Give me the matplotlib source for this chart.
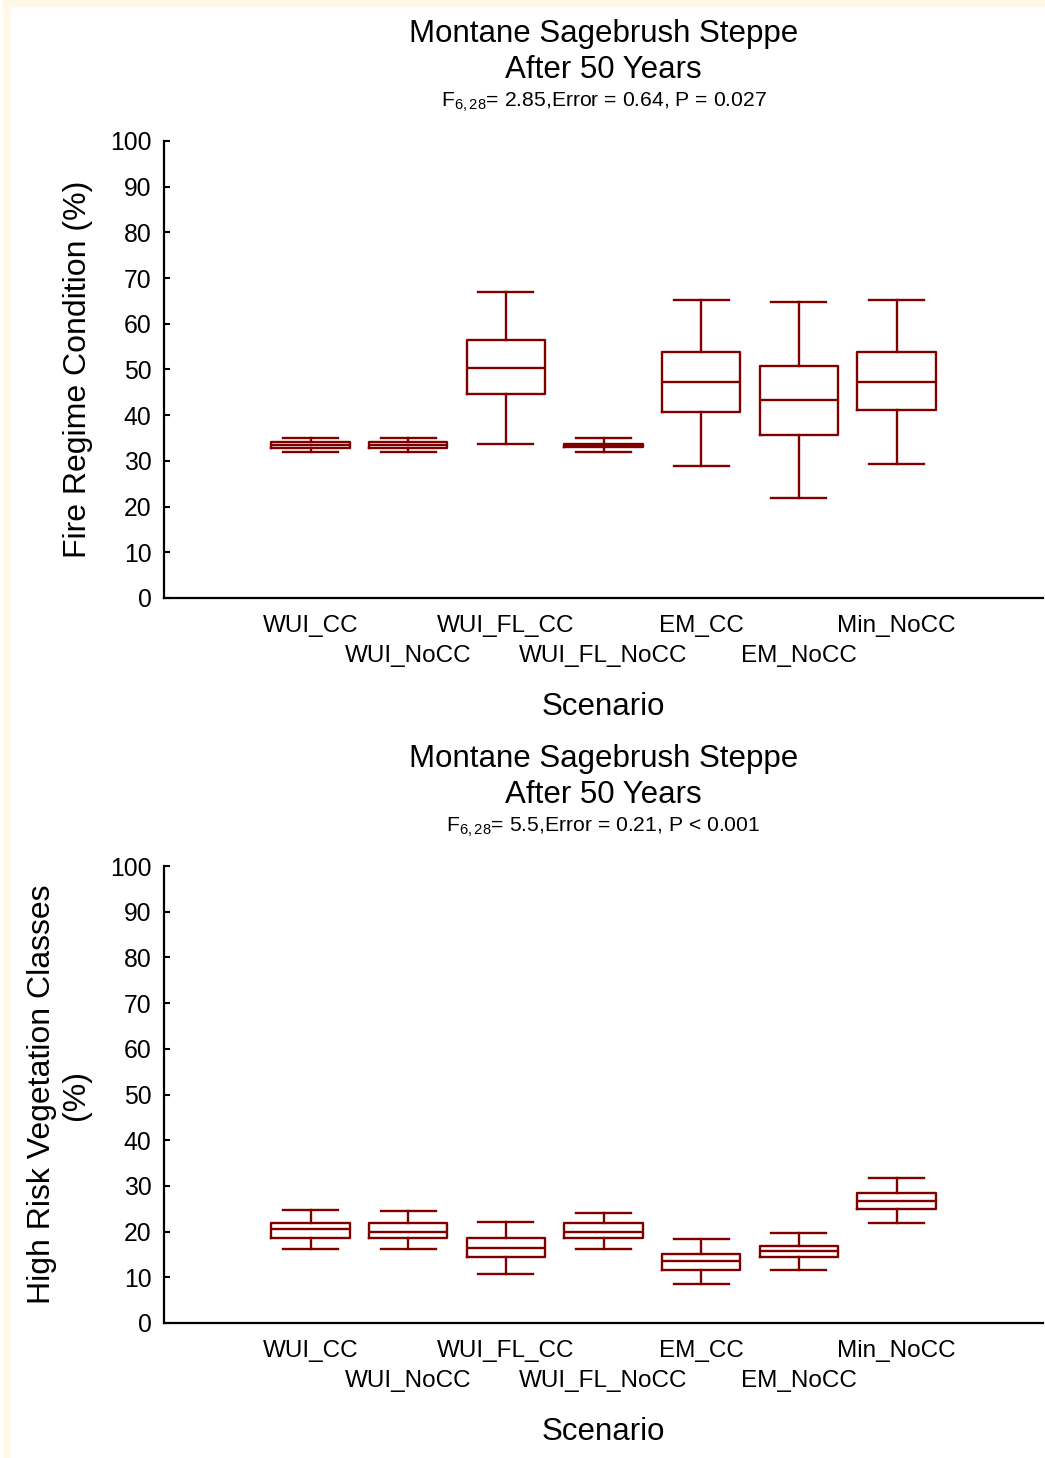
import matplotlib
matplotlib.use("Agg")
import matplotlib.pyplot as plt
from matplotlib.patches import Rectangle

plt.rcParams['font.family'] = ['Liberation Sans', 'DejaVu Sans']
plt.rcParams['mathtext.fontset'] = 'custom'
plt.rcParams['mathtext.rm'] = 'Liberation Sans'
plt.rcParams['mathtext.it'] = 'Liberation Sans'

scenarios = ["WUI_CC", "WUI_NoCC", "WUI_FL_CC", "WUI_FL_NoCC", "EM_CC", "EM_NoCC", "Min_NoCC"]

# fire regime condition (%): whisker low, q1, median, q3, whisker high
frc_low = [32.0, 32.0, 33.8, 32.0, 28.9, 21.9, 29.4]
frc_q1 = [32.9, 32.9, 44.7, 33.0, 40.8, 35.6, 41.2]
frc_med = [33.5, 33.5, 50.4, 33.4, 47.3, 43.4, 47.3]
frc_q3 = [34.2, 34.2, 56.5, 33.8, 53.9, 50.8, 53.9]
frc_high = [35.1, 35.1, 67.0, 35.1, 65.3, 64.8, 65.3]

# high risk vegetation classes (%)
hrv_low = [16.1, 16.1, 10.8, 16.1, 8.6, 11.7, 21.8]
hrv_q1 = [18.7, 18.7, 14.4, 18.7, 11.7, 14.4, 24.9]
hrv_med = [20.5, 20.0, 16.5, 20.0, 13.5, 15.7, 26.6]
hrv_q3 = [21.8, 21.8, 18.7, 21.8, 15.2, 16.9, 28.4]
hrv_high = [24.8, 24.4, 22.2, 24.0, 18.3, 19.6, 31.8]

titles = ["Montane Sagebrush Steppe\nAfter 50 Years", "Montane Sagebrush Steppe\nAfter 50 Years"]
subtitles = [r"F$_{6,28}$= 2.85,Error = 0.64, P = 0.027", r"F$_{6,28}$= 5.5,Error = 0.21, P < 0.001"]
ylabels = ["Fire Regime Condition (%)", "High Risk Vegetation Classes\n(%)"]

RED = "#800000"
W, H = 1045, 1458


def make_stats(low, q1, med, q3, high):
    stats = []
    for i in range(len(scenarios)):
        stats.append(dict(whislo=low[i], q1=q1[i], med=med[i], q3=q3[i], whishi=high[i], fliers=[], label=scenarios[i]))
    return stats


def draw_panel(fig, top_px, stats, title, subtitle, ylabel, ylabel_x):
    left, right = 164, 1043
    height = 457
    ax = fig.add_axes([left / W, 1 - (top_px + height) / H, (right - left) / W, height / H])
    pos = list(range(1, len(scenarios) + 1))
    lp = dict(color=RED, linewidth=1.7)
    ax.bxp(stats, positions=pos, widths=0.8, showfliers=False,
           boxprops=lp, whiskerprops=lp, capprops=lp, medianprops=lp, capwidths=0.56)
    ax.set_xlim(-0.5, 8.5)
    ax.set_ylim(0, 100)
    ax.set_yticks(range(0, 101, 10))
    ax.set_xticks(pos)
    ax.set_xticklabels(scenarios)
    ax.tick_params(axis='y', direction='in', length=4, width=1.5, labelsize=17.8, pad=9)
    ax.tick_params(axis='x', length=0, labelsize=17.5, pad=12.5)
    for i, t in enumerate(ax.xaxis.get_major_ticks()):
        if i % 2 == 1:
            t.set_pad(34)
    for s in ['top', 'right']:
        ax.spines[s].set_visible(False)
    for s in ['left', 'bottom']:
        ax.spines[s].set_linewidth(1.6)
    ax.set_xlabel("Scenario", fontsize=22.5, labelpad=17.5)
    cx = (left + right) / 2 / W
    fig.text(cx, 1 - (top_px - 89) / H, title, ha='center', va='center', fontsize=22.5, linespacing=1.28)
    fig.text(cx, 1 - (top_px - 39) / H, subtitle, ha='center', va='center', fontsize=15.2)
    fig.text(ylabel_x / W, 1 - (top_px + height / 2) / H, ylabel, ha='center', va='center',
             rotation=90, fontsize=23, linespacing=1.15)
    return ax


fig = plt.figure(figsize=(W / 100, H / 100), dpi=100)
fig.patch.set_facecolor('white')
cream = "#FFF8E6"
fig.patches.append(Rectangle((3 / W, 0), 6 / W, 1, transform=fig.transFigure, color=cream, zorder=0))
fig.patches.append(Rectangle((3 / W, 1 - 6 / H), 1, 6 / H, transform=fig.transFigure, color=cream, zorder=0))

draw_panel(fig, 141, make_stats(frc_low, frc_q1, frc_med, frc_q3, frc_high), titles[0], subtitles[0], ylabels[0], 78)
draw_panel(fig, 866, make_stats(hrv_low, hrv_q1, hrv_med, hrv_q3, hrv_high), titles[1], subtitles[1], ylabels[1], 59)

fig.savefig("out.png", dpi=100)
